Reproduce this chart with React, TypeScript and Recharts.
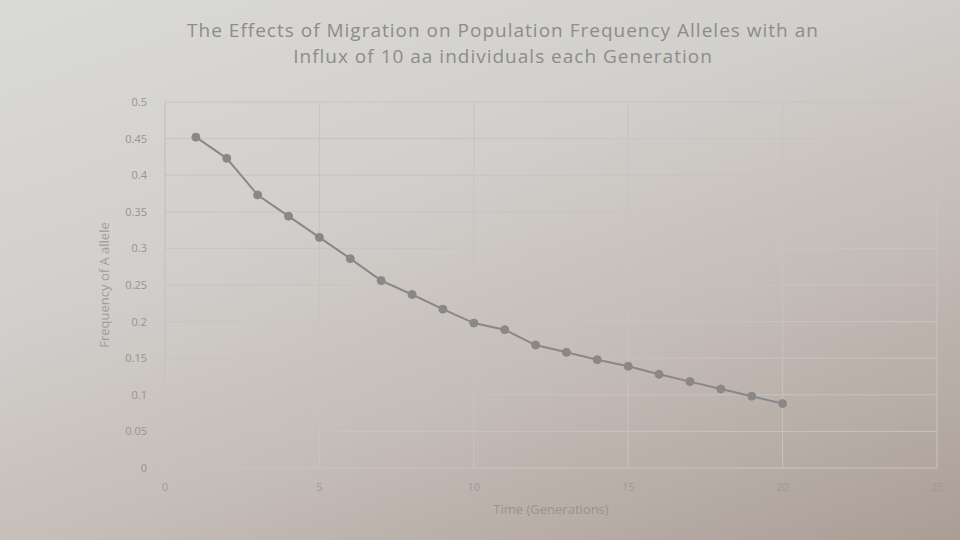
import { LineChart, Line, XAxis, YAxis, CartesianGrid, Label } from 'recharts';

// generations 1..20
const generations = [1, 2, 3, 4, 5, 6, 7, 8, 9, 10, 11, 12, 13, 14, 15, 16, 17, 18, 19, 20];
// frequency of the A allele
const freqA = [
  0.452, 0.423, 0.373, 0.344, 0.315, 0.286, 0.256, 0.237, 0.217, 0.198,
  0.189, 0.168, 0.158, 0.148, 0.139, 0.128, 0.118, 0.108, 0.098, 0.088,
];
const xTicks = [0, 5, 10, 15, 20, 25];
const yTicks = [0, 0.05, 0.1, 0.15, 0.2, 0.25, 0.3, 0.35, 0.4, 0.45, 0.5];

const titleLines = [
  'The Effects of Migration on Population Frequency Alleles with an',
  'Influx of 10 aa individuals each Generation',
];

const FONT = '"Open Sans", Lato, sans-serif';
const INK = '#8e8c8a';

export default function App() {
  const data = generations.map((g, i) => ({ gen: g, freq: freqA[i] }));

  return (
    <div
      style={{
        position: 'fixed',
        left: 0,
        top: 0,
        width: 960,
        height: 540,
        overflow: 'hidden',
        fontFamily: FONT,
        background:
          'linear-gradient(160deg, #dadad6 0%, #d2d0cd 35%, #c4bcb7 65%, #ab9d96 100%)',
      }}
    >
      <div
        style={{
          position: 'absolute',
          left: 0,
          top: 17,
          width: 1006,
          textAlign: 'center',
          color: INK,
          fontSize: 19,
          letterSpacing: 1,
          lineHeight: '26px',
        }}
      >
        {titleLines.map((t) => (
          <div key={t}>{t}</div>
        ))}
      </div>
      <div style={{ position: 'absolute', left: 0, top: 0 }}>
        <LineChart
          width={960}
          height={540}
          data={data}
          margin={{ top: 102, right: 23, left: 0, bottom: 32 }}
        >
          <CartesianGrid stroke="#c6c4c1" strokeWidth={1} />
          <XAxis
            dataKey="gen"
            type="number"
            domain={[0, 25]}
            ticks={xTicks}
            axisLine={false}
            tickLine={false}
            height={40}
            tick={{ fill: '#9c9a97', fontSize: 11, fontFamily: FONT }}
            tickMargin={9}
          >
            <Label
              value="Time (Generations)"
              position="insideBottom"
              offset={-6}
              style={{ fill: '#96948f', fontSize: 13, fontFamily: FONT }}
            />
          </XAxis>
          <YAxis
            type="number"
            domain={[0, 0.5]}
            ticks={yTicks}
            axisLine={{ stroke: '#c6c4c1' }}
            tickLine={false}
            width={165}
            tick={{ fill: '#959390', fontSize: 11, fontFamily: FONT }}
            tickMargin={12}
          >
            <Label
              value="Frequency of A allele"
              angle={-90}
              position="insideLeft"
              offset={104}
              style={{ fill: '#a09e9b', fontSize: 13, fontFamily: FONT, textAnchor: 'middle' }}
            />
          </YAxis>
          <Line
            dataKey="freq"
            type="linear"
            stroke="#8a8886"
            strokeWidth={2}
            dot={{ r: 4, fill: '#8a8886', stroke: '#8a8886', strokeWidth: 1 }}
            isAnimationActive={false}
          />
        </LineChart>
      </div>
    </div>
  );
}
